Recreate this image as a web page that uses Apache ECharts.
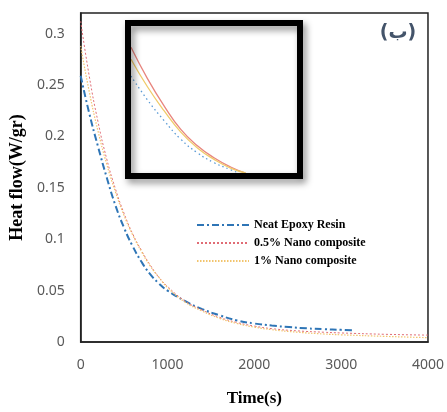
<!DOCTYPE html>
<html>
<head>
<meta charset="utf-8">
<script src="https://cdn.jsdelivr.net/npm/echarts@6/dist/echarts.min.js"></script>
<style>
  html, body { margin: 0; padding: 0; background: #fff; }
  #chart { width: 447px; height: 412px; }
</style>
</head>
<body>
<div id="chart"></div>
<script>
// Heat flow (W/gr) against time (s) for the three resin formulations
const neatTime = [0, 100, 200, 300, 400, 500, 600, 700, 800, 900, 1000, 1200, 1400, 1600, 1800, 2000, 2200, 2400, 2600, 2800, 3000, 3150];
const neatFlow = [0.259, 0.222, 0.190, 0.160, 0.133, 0.111, 0.093, 0.078, 0.066, 0.057, 0.050, 0.040, 0.032, 0.026, 0.021, 0.018, 0.016, 0.0145, 0.0133, 0.0125, 0.0118, 0.0112];

const compositeTime = [0, 100, 200, 300, 400, 500, 600, 700, 800, 900, 1000, 1200, 1400, 1600, 1800, 2000, 2200, 2500, 2800, 3000, 3500, 4000];
const halfPercentFlow = [0.312, 0.258, 0.214, 0.178, 0.149, 0.125, 0.105, 0.089, 0.075, 0.063, 0.054, 0.040, 0.031, 0.024, 0.019, 0.0155, 0.013, 0.0108, 0.0095, 0.0088, 0.0075, 0.0067];
const onePercentFlow = [0.288, 0.243, 0.205, 0.173, 0.146, 0.123, 0.104, 0.088, 0.074, 0.063, 0.053, 0.039, 0.030, 0.023, 0.018, 0.0145, 0.012, 0.0095, 0.0078, 0.007, 0.0055, 0.0042];

// Close-up of the early decay shown in the framed panel
const detailTime = [0, 100, 200, 300, 400, 500, 600, 690];
const detailHalf = [0.311, 0.253, 0.203, 0.160, 0.130, 0.108, 0.091, 0.080];
const detailOne = [0.289, 0.238, 0.194, 0.155, 0.126, 0.105, 0.089, 0.080];
const detailNeatTime = [0, 100, 200, 300, 400, 500, 600, 650];
const detailNeat = [0.258, 0.214, 0.176, 0.142, 0.117, 0.099, 0.086, 0.080];

const xTicks = [0, 1000, 2000, 3000, 4000];
const yTicks = [0, 0.05, 0.1, 0.15, 0.2, 0.25, 0.3];

const seriesNames = ['Neat Epoxy Resin', '0.5% Nano composite', '1% Nano composite'];

const pairs = (xs, ys) => xs.map((x, i) => [x, ys[i]]);

const chart = echarts.init(document.getElementById('chart'), null, { renderer: 'canvas' });

const tickFont = { color: '#595959', fontSize: 14, fontFamily: 'Noto Sans' };
const titleFont = { color: '#000', fontSize: 18, fontWeight: 'bold', fontFamily: 'Liberation Serif' };

chart.setOption({
  animation: false,
  backgroundColor: '#fff',
  grid: [
    { left: 79, top: 13, right: 18, bottom: 66, show: true, borderColor: '#222', borderWidth: 1.5 },
    { left: 131, top: 26, width: 166, height: 147, show: true, backgroundColor: '#fff', borderWidth: 0 }
  ],
  xAxis: [
    {
      gridIndex: 0, type: 'value', min: xTicks[0], max: xTicks[xTicks.length - 1], interval: 1000,
      name: 'Time(s)', nameLocation: 'middle', nameGap: 48,
      nameTextStyle: { ...titleFont, fontSize: 17 },
      axisLine: { show: true, lineStyle: { color: '#222', width: 1.5 } },
      axisTick: { show: false },
      splitLine: { show: false },
      axisLabel: { ...tickFont, margin: 16, formatter: v => String(v) }
    },
    { gridIndex: 1, type: 'value', min: 0, max: 1000, show: false, splitLine: { show: false } }
  ],
  yAxis: [
    {
      gridIndex: 0, type: 'value', min: yTicks[0], max: 0.32, interval: 0.05,
      name: 'Heat flow(W/gr)', nameLocation: 'middle', nameGap: 52, nameRotate: 90,
      nameTextStyle: titleFont,
      axisLine: { show: true, lineStyle: { color: '#222', width: 1.5 } },
      axisTick: { show: false },
      splitLine: { show: false },
      axisLabel: {
        ...tickFont, margin: 16, showMaxLabel: false,
        formatter: v => (yTicks.some(t => Math.abs(t - v) < 1e-9) ? String(+v.toFixed(2)) : '')
      }
    },
    { gridIndex: 1, type: 'value', min: 0.08, max: 0.35, show: false, splitLine: { show: false } }
  ],
  legend: {
    data: seriesNames,
    orient: 'vertical',
    left: 191, top: 214,
    itemWidth: 52, itemHeight: 10, itemGap: 6,
    itemStyle: { opacity: 0 },
    textStyle: { color: '#000', fontSize: 12, fontWeight: 'bold', fontFamily: 'Liberation Serif' }
  },
  graphic: [
    {
      type: 'rect', z: 100, silent: true,
      shape: { x: 128, y: 23, width: 172, height: 153 },
      style: {
        fill: null, stroke: '#000', lineWidth: 6,
        shadowColor: 'rgba(0,0,0,0.45)', shadowBlur: 7, shadowOffsetX: 3, shadowOffsetY: 4
      }
    },
    {
      type: 'text', z: 100, silent: true,
      style: { x: 398, y: 33, text: '(ب)', fill: '#44546A', font: 'bold 19px "DejaVu Sans"', align: 'center', verticalAlign: 'middle' }
    }
  ],
  series: [
    {
      name: seriesNames[0], type: 'line', xAxisIndex: 0, yAxisIndex: 0, smooth: true, symbol: 'none',
      data: pairs(neatTime, neatFlow),
      itemStyle: { color: '#2E75B6' },
      lineStyle: { color: '#2E75B6', width: 2, type: [7, 3, 2, 3] }
    },
    {
      name: seriesNames[1], type: 'line', xAxisIndex: 0, yAxisIndex: 0, smooth: true, symbol: 'none',
      data: pairs(compositeTime, halfPercentFlow),
      itemStyle: { color: '#E06C75' },
      lineStyle: { color: '#E06C75', width: 1, type: [2, 2] }
    },
    {
      name: seriesNames[2], type: 'line', xAxisIndex: 0, yAxisIndex: 0, smooth: true, symbol: 'none',
      data: pairs(compositeTime, onePercentFlow),
      itemStyle: { color: '#F2C46D' },
      lineStyle: { color: '#F2C46D', width: 1.2, type: [1.5, 1.5] }
    },
    {
      name: 'neat-detail', type: 'line', xAxisIndex: 1, yAxisIndex: 1, smooth: true, symbol: 'none',
      data: pairs(detailNeatTime, detailNeat),
      lineStyle: { color: '#5B9BD5', width: 1.3, type: [1.5, 3] }
    },
    {
      name: 'half-detail', type: 'line', xAxisIndex: 1, yAxisIndex: 1, smooth: true, symbol: 'none',
      data: pairs(detailTime, detailHalf),
      lineStyle: { color: '#E8857E', width: 1.3 }
    },
    {
      name: 'one-detail', type: 'line', xAxisIndex: 1, yAxisIndex: 1, smooth: true, symbol: 'none',
      data: pairs(detailTime, detailOne),
      lineStyle: { color: '#F0CB6A', width: 1.3 }
    }
  ]
});
</script>
</body>
</html>
